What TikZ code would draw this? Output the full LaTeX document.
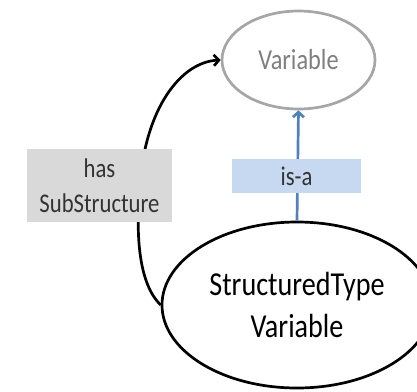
\documentclass[tikz,border=0pt]{standalone}
\usepackage{fontspec}
\setmainfont[FakeStretch=0.84]{Carlito}
\usepackage{tikz}
\usetikzlibrary{arrows.meta,shapes.geometric}
\definecolor{OntoGray}{HTML}{A6A6A6}
\definecolor{OntoText}{HTML}{7F7F7F}
\definecolor{OntoBox}{HTML}{D9D9D9}
\definecolor{OntoBlue}{HTML}{4F81BD}
\definecolor{OntoLight}{HTML}{C6D9F1}

\begin{document}
\begin{tikzpicture}[
  x=1pt, y=-1pt,
  concept/.style={ellipse, draw, line width=2.7pt, inner sep=0pt, align=center},
  relbox/.style={inner sep=0pt, align=center, font=\fontsize{27}{35}\selectfont},
  link/.style={-{Straight Barb[length=5pt,width=11pt]}, line width=2.7pt}
]
  \useasboundingbox (0,0) rectangle (417,391);
  \node[concept, draw=OntoGray, text=OntoText, minimum width=153pt, minimum height=98pt,
    font=\fontsize{29}{34}\selectfont] (var) at (298.5,60) {Variable};
  \node[concept, minimum width=270pt, minimum height=166pt,
    font=\fontsize{33.5}{42}\selectfont] (stv) at (297,305) {StructuredType\\Variable};
  % has SubStructure, drawn under its label
  \draw[link]
    (stv.west) .. controls (140,285) and (135,240) .. (140,185)
    .. controls (145,110) and (180,62) .. (var.west);
  \node[relbox, fill=OntoBox, text=black!80, minimum width=145pt, minimum height=73pt]
    (has) at (99.5,185.5) {has\\SubStructure};
  % is-a
  \draw[link, OntoBlue] (stv.north) -- (var.south);
  \node[relbox, fill=OntoLight, text=black!80, minimum width=129pt, minimum height=34pt]
    (isa) at (296.5,176) {is-a};
\end{tikzpicture}
\end{document}
